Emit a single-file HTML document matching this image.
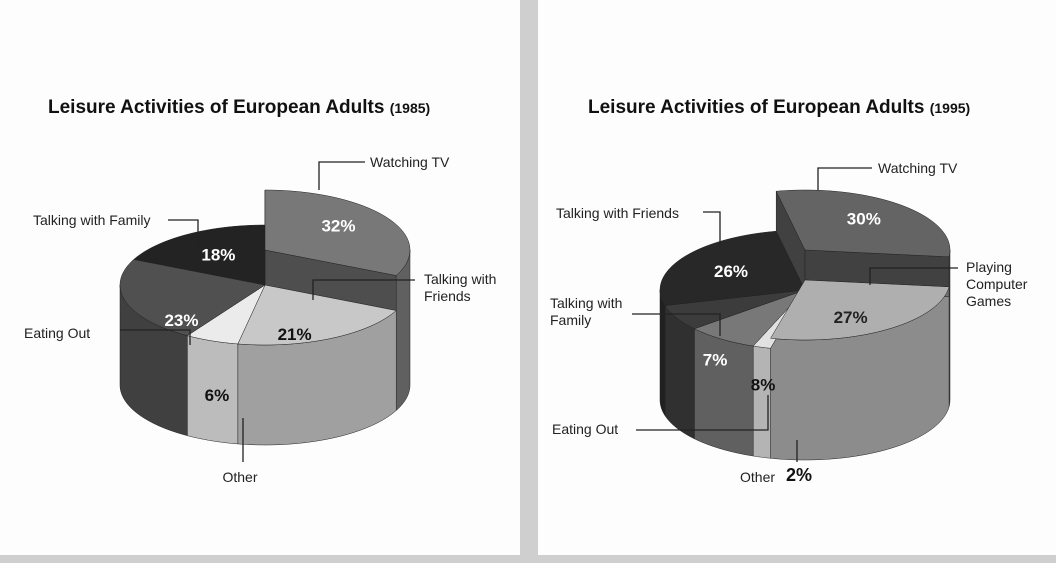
<!DOCTYPE html>
<html><head><meta charset="utf-8">
<style>
html,body{margin:0;padding:0;width:1056px;height:563px;overflow:hidden;background:#cfcfcf;}
.panel{position:absolute;top:0;background:#fdfdfd;height:555px;}
svg text{font-family:"Liberation Sans",sans-serif;}
</style></head>
<body>
<div class="panel" style="left:0;width:520px;"></div>
<div class="panel" style="left:538px;width:518px;"></div>
<svg id="chart" width="1056" height="563" style="position:absolute;left:0;top:0">
<text x="48" y="113" font-size="19" font-weight="bold" fill="#111">Leisure Activities of European Adults <tspan font-size="14">(1985)</tspan></text>
<text x="588" y="113" font-size="19" font-weight="bold" fill="#111">Leisure Activities of European Adults <tspan font-size="14">(1995)</tspan></text>
</svg>
<script>
const cats1985=["Watching TV","Talking with Friends","Other","Eating Out","Talking with Family"];
const vals1985=[32,21,6,23,18];
const cats1995=["Watching TV","Playing Computer Games","Other","Eating Out","Talking with Family","Talking with Friends"];
const vals1995=[30,27,2,8,7,26];
const NS="http://www.w3.org/2000/svg";
const svg=document.getElementById('chart');
function el(t,a,p){const e=document.createElementNS(NS,t);for(const k in a)e.setAttribute(k,a[k]);(p||svg).appendChild(e);return e;}
function shade(c,f){return 'rgb('+c.map(v=>Math.max(0,Math.min(255,Math.round(v*f)))).join(',')+')';}
function slug(s){return s.toLowerCase().replace(/ /g,'-');}
function pie(vals,cats,cfg){
  const g=el('g',{});
  
  
  const tot=vals.reduce((a,b)=>a+b,0);
  let a0=cfg.start;const sl=[];
  vals.forEach((v,i)=>{const a1=a0+v/tot*Math.PI*2;sl.push({a0,a1,i});a0=a1;});
  const {cx,cy,rx,ry,d}=cfg;
  const P=(a,dy)=>[cx+rx*Math.cos(a),cy+ry*Math.sin(a)+dy];
  sl.forEach(s=>{
    const lift=cfg.lift[s.i]||0;
    const ranges=[];
    const lo=Math.max(s.a0,0),hi=Math.min(s.a1,Math.PI);
    if(hi>lo)ranges.push([lo,hi]);
    const lo2=Math.max(s.a0,2*Math.PI),hi2=Math.min(s.a1,3*Math.PI);
    if(hi2>lo2)ranges.push([lo2,hi2]);
    ranges.forEach(r=>{
      let p='';const n=30;
      for(let k=0;k<=n;k++){const a=r[0]+(r[1]-r[0])*k/n;const q=P(a,-lift);p+=(k?'L':'M')+q[0]+','+q[1];}
      for(let k=n;k>=0;k--){const a=r[0]+(r[1]-r[0])*k/n;const q=P(a,d);p+='L'+q[0]+','+q[1];}
      const w=el('path',{d:p+'Z',fill:shade(cfg.col[s.i],0.8),stroke:'#222','stroke-width':0.5},g);
      
      
    });
  });
  sl.forEach(s=>{
    const lift=cfg.lift[s.i]||0;if(!lift)return;
    [s.a0,s.a1].forEach(a=>{
      const e1=P(a,-lift),e2=P(a,0);
      const f=el('polygon',{points:`${cx},${cy-lift} ${e1[0]},${e1[1]} ${e2[0]},${e2[1]} ${cx},${cy}`,fill:shade(cfg.col[s.i],0.65),stroke:'#222','stroke-width':0.5},g);
      
      
    });
  });
  const order=sl.slice().sort((a,b)=>(cfg.lift[a.i]||0)-(cfg.lift[b.i]||0));
  order.forEach(s=>{
    const lift=cfg.lift[s.i]||0;
    let p='M'+cx+','+(cy-lift);const n=40;
    for(let k=0;k<=n;k++){const a=s.a0+(s.a1-s.a0)*k/n;const q=P(a,-lift);p+='L'+q[0]+','+q[1];}
    const t=el('path',{d:p+'Z',fill:shade(cfg.col[s.i],1),stroke:'#222','stroke-width':0.5},g);
    
    
  });
  sl.forEach(s=>{
    if(cfg.tc[s.i]==='none')return;
    const lift=cfg.lift[s.i]||0;
    const m=(s.a0+s.a1)/2;const r=cfg.lr[s.i]||0.6;
    const lx=cx+rx*r*Math.cos(m),ly=cy+ry*r*Math.sin(m)-lift+(cfg.ldy[s.i]||0);
    const tx=el('text',{x:lx,y:ly+6,'text-anchor':'middle','font-size':17,'font-weight':'bold',fill:cfg.tc[s.i]},g);
    tx.textContent=vals[s.i]+'%';
    
    
  });
}
pie(vals1985,cats1985,{name:'pie-1985',cx:265,cy:285,rx:145,ry:60,d:100,start:-Math.PI/2,
  col:[[120,120,120],[200,200,200],[235,235,235],[80,80,80],[35,35,35]],
  lift:[35,0,0,0,0],lr:[0.6,0.45,0.9,0.6,0.6],ldy:[-5,25,60,25,0],
  tc:['#fff','#111','#111','#fff','#fff']});
pie(vals1995,cats1995,{name:'pie-1995',cx:805,cy:290,rx:145,ry:60,d:110,start:-Math.PI/2-0.2,
  col:[[100,100,100],[175,175,175],[225,225,225],[120,120,120],[60,60,60],[40,40,40]],
  lift:[40,10,0,0,0,0],lr:[0.6,0.55,0.9,0.5,0.7,0.6],ldy:[-5,10,80,70,50,0],
  tc:['#fff','#222','none','#111','#fff','#fff']});
function lab(txt,x,y,anchor,name){const lines=txt.split('|');lines.forEach((l,i)=>{const t=el('text',{x:x,y:y+i*17,'font-size':14,fill:'#222','text-anchor':anchor});t.textContent=l;
 });}
function line(pts){el('polyline',{points:pts,fill:'none',stroke:'#222','stroke-width':1.3});}
lab('Watching TV',370,167,'start','label-watching-tv-1985');line('365,162 319,162 319,190');
lab('Talking with Family',33,225,'start','label-family-1985');line('168,220 198,220 198,250');
lab('Talking with|Friends',424,284,'start','label-friends-1985');line('415,280 313,280 313,300');
lab('Eating Out',24,338,'start','label-eating-out-1985');line('120,330 190,330 190,345');
lab('Other',240,482,'middle','label-other-1985');line('243,418 243,462');
lab('Watching TV',878,173,'start','label-watching-tv-1995');line('872,168 818,168 818,190');
lab('Talking with Friends',556,218,'start','label-friends-1995');line('703,212 720,212 720,245');
lab('Playing|Computer|Games',966,272,'start','label-games-1995');line('958,268 870,268 870,285');
lab('Talking with|Family',550,308,'start','label-family-1995');line('632,314 720,314 720,336');
lab('Eating Out',552,434,'start','label-eating-out-1995');line('636,430 768,430 768,395');
lab('Other',740,482,'start','label-other-1995');line('797,440 797,462');
const o=el('text',{x:786,y:481,'font-size':18,'font-weight':'bold',fill:'#111'});
o.textContent='2%';


</script>
</body></html>
